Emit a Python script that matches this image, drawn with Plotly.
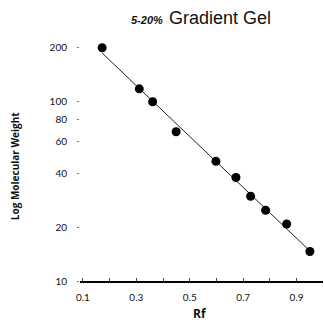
import numpy as np
import plotly.graph_objects as go

rf = [0.172, 0.311, 0.361, 0.449, 0.598, 0.673, 0.728, 0.784, 0.863, 0.950]
mw = [200, 118, 100, 68, 46.5, 37.8, 29.7, 24.8, 20.8, 14.6]

y_tickvals = [10, 20, 40, 60, 80, 100, 200]
x_tickvals = [0.1, 0.2, 0.3, 0.4, 0.5, 0.6, 0.7, 0.8, 0.9]
x_ticktext = ["0.1", "", "0.3", "", "0.5", "", "0.7", "", "0.9"]

# least-squares fit of log(MW) vs Rf
slope, intercept = np.polyfit(rf, np.log10(mw), 1)
fit_x = [min(rf), max(rf)]
fit_y = [10 ** (intercept + slope * v) for v in fit_x]

fig = go.Figure()
fig.add_trace(go.Scatter(x=fit_x, y=fit_y, mode="lines",
                         line=dict(color="#222", width=1), hoverinfo="skip"))
fig.add_trace(go.Scatter(x=rf, y=mw, mode="markers",
                         marker=dict(color="black", size=9)))

fig.update_layout(
    width=324, height=324,
    margin=dict(l=80, r=1, t=39, b=43),
    paper_bgcolor="white", plot_bgcolor="white",
    showlegend=False,
    font=dict(family="Lato, sans-serif", color="#111", size=10),
    xaxis=dict(range=[0.089, 0.999], tickvals=x_tickvals, ticktext=x_ticktext,
               showgrid=False, zeroline=False, showline=True, linecolor="black",
               linewidth=2, ticks="inside", ticklen=3, tickcolor="#444",
               ticklabelstandoff=6, tickfont=dict(size=10)),
    yaxis=dict(type="log", range=[1, 2.35], tickvals=y_tickvals,
               ticktext=[str(v) for v in y_tickvals],
               showgrid=False, zeroline=False, showline=False,
               ticks="outside", ticklen=2, tickcolor="#777",
               ticklabelstandoff=8, tickfont=dict(size=10)),
    annotations=[
        dict(text="<b><i>5-20%</i></b>&nbsp; <span style='font-size:18px'>Gradient Gel</span>",
             xref="paper", yref="paper", x=0.498, y=1.087,
             xanchor="center", yanchor="middle", showarrow=False,
             font=dict(family="Liberation Sans, Arial, sans-serif", size=11, color="#111")),
        dict(text="<b>Log Molecular Weight</b>", xref="paper", yref="paper",
             x=-0.267, y=0.475, textangle=-90, xanchor="center", yanchor="middle",
             showarrow=False,
             font=dict(family="Open Sans, sans-serif", size=10, color="#111")),
        dict(text="<b>Rf</b>", xref="paper", yref="paper",
             x=0.494, y=-0.136, xanchor="center", yanchor="middle", showarrow=False,
             font=dict(family="Open Sans, sans-serif", size=12, color="#111")),
    ],
)

fig.write_html("out.html")
